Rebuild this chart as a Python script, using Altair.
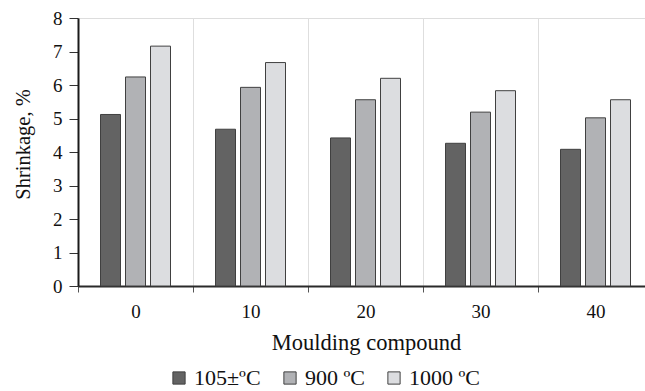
import altair as alt
import pandas as pd

categories = ["0", "10", "20", "30", "40"]
series = ["105±ºC", "900 ºC", "1000 ºC"]
v105 = [5.12, 4.68, 4.42, 4.26, 4.08]
v900 = [6.24, 5.93, 5.56, 5.19, 5.02]
v1000 = [7.16, 6.67, 6.20, 5.83, 5.56]
colors = ["#636363", "#b1b2b5", "#dcdde0"]
y_ticks = [0, 1, 2, 3, 4, 5, 6, 7, 8]

rows = []
for s, vals in zip(series, [v105, v900, v1000]):
    for c, v in zip(categories, vals):
        rows.append({"compound": c, "series": s, "shrink": v})
df = pd.DataFrame(rows)

FONT = "Liberation Serif"

chart = alt.Chart(df).mark_bar(stroke="#404040", strokeWidth=1).encode(
    x=alt.X(
        "compound:N", sort=categories,
        scale=alt.Scale(paddingInner=0, paddingOuter=0),
        axis=alt.Axis(
            title="Moulding compound", labelAngle=0, tickBand="extent",
            grid=True, gridColor="#dedede", gridWidth=1,
            domainColor="#2a2a2a", domainWidth=2,
            tickColor="#555555", tickSize=6, tickWidth=1,
            labelFont=FONT, labelFontSize=19, labelColor="#111111", labelPadding=10,
            titleFont=FONT, titleFontSize=22.5, titleFontWeight="normal", titleColor="#111111",
            titleBaseline="alphabetic", titleX=288, titleY=63,
        ),
    ),
    xOffset=alt.XOffset("series:N", sort=series,
                        scale=alt.Scale(paddingInner=0.2, paddingOuter=0.9)),
    y=alt.Y(
        "shrink:Q", scale=alt.Scale(domain=[0, 8], nice=False),
        axis=alt.Axis(
            title="Shrinkage, %", values=y_ticks, grid=False,
            domainColor="#1a1a1a", domainWidth=2,
            tickColor="#333333", tickSize=9, tickWidth=1,
            labelFont=FONT, labelFontSize=19, labelColor="#111111", labelPadding=7,
            titleFont=FONT, titleFontSize=20.5, titleFontWeight="normal", titleColor="#111111",
            titleBaseline="middle", titleX=-55, titleY=126, titleAngle=270,
        ),
    ),
    color=alt.Color(
        "series:N", sort=series,
        scale=alt.Scale(domain=series, range=colors),
        legend=alt.Legend(
            title=None, orient="none", direction="horizontal",
            legendX=90, legendY=349,
            symbolType="square", symbolSize=150, symbolStrokeColor="#404040",
            symbolStrokeWidth=1,
            labelFont=FONT, labelFontSize=22, labelColor="#111111",
            labelOffset=4, columnPadding=18,
        ),
    ),
).properties(
    width=575, height=268,
    autosize=alt.AutoSizeParams(type="none"),
    padding={"left": 78, "top": 18, "right": -8, "bottom": 105},
).configure_view(strokeWidth=0).configure(background="white")

chart.save("out.html", embed_options={"renderer": "svg", "actions": False})
